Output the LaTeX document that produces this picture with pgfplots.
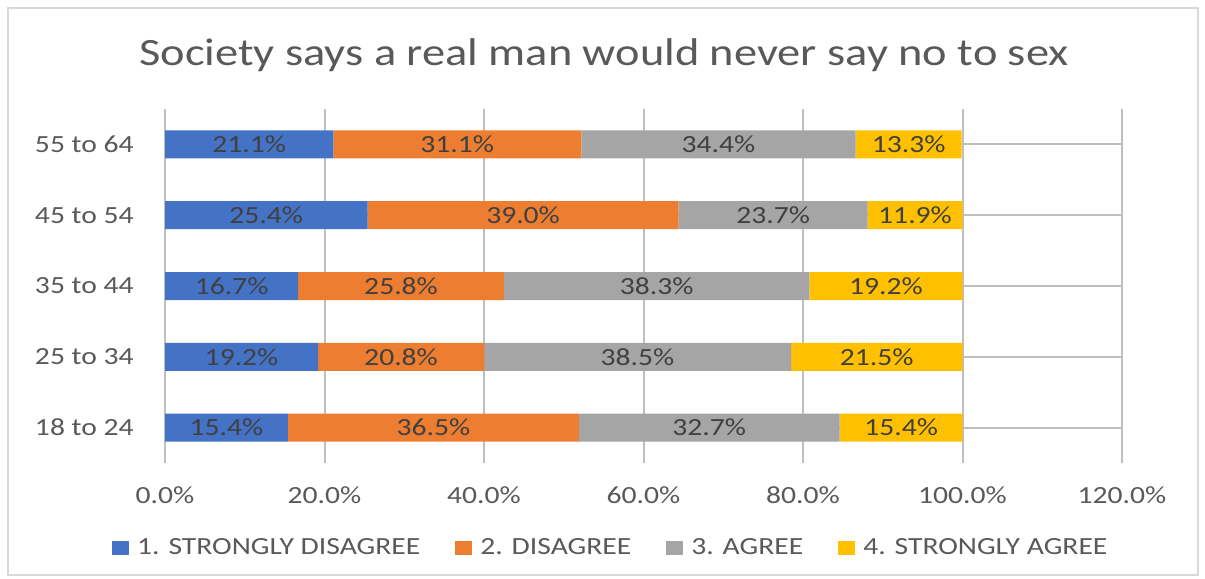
\documentclass[border=0pt]{standalone}
\usepackage{pgfplots}
\pgfplotsset{compat=1.18}
\usepackage{pgfplotstable}
\usepackage{fontspec}
\setmainfont{Carlito}[FakeStretch=1.2]
\definecolor{cBlue}{HTML}{4472C4}
\definecolor{cOrange}{HTML}{ED7D31}
\definecolor{cGray}{HTML}{A5A5A5}
\definecolor{cGold}{HTML}{FFC000}
\definecolor{txt}{HTML}{595959}
\definecolor{lbl}{HTML}{404040}
\definecolor{grid}{HTML}{D9D9D9}
\pgfplotstableread{
y sd d a sa
0 15.4 36.5 32.7 15.4
1 19.2 20.8 38.5 21.5
2 16.7 25.8 38.3 19.2
3 25.4 39.0 23.7 11.9
4 21.1 31.1 34.4 13.3
}\data
\begin{document}
\begin{tikzpicture}
\begin{scope}[x=0.75pt,y=-0.75pt]
\path[use as bounding box] (0,0) rectangle (1205,578);
\draw[grid, line width=1.5pt] (8,8) rectangle (1198,575);
\node[font=\fontsize{29}{33}\selectfont, text=txt] at (604,55) {Society says a real man would never say no to sex};
\end{scope}
\begin{axis}[
  at={(123.75pt,-347.25pt)}, anchor=south west,
  scale only axis, width=717.75pt, height=265.5pt,
  xbar stacked, bar width=21pt,
  xmin=0, xmax=120, ymin=-0.5, ymax=4.5,
  xtick={0,20,...,120},
  xticklabel={\pgfmathprintnumber[fixed,fixed zerofill,precision=1]{\tick}\%},
  /pgf/number format/assume math mode=true,
  ytick={0,1,2,3,4},
  yticklabels={18 to 24, 25 to 34, 35 to 44, 45 to 54, 55 to 64},
  xmajorgrids, grid style={grid, line width=1.5pt},
  axis line style={draw=none},
  major tick length=0pt,
  xticklabel style={font=\fontsize{18.5}{22}\selectfont, text=txt, yshift=-14pt},
  yticklabel style={font=\fontsize{18.5}{22}\selectfont, text=txt, xshift=-20pt},
  point meta=explicit,
  nodes near coords={\pgfmathprintnumber[fixed,fixed zerofill,precision=1]{\pgfplotspointmeta}\%},
  every node near coord/.append style={anchor=center, font=\fontsize{18.5}{22}\selectfont, text=lbl},
  legend columns=4,
  legend style={draw=none, fill=none, at={(0.466,-0.24)}, anchor=center,
    font=\fontsize{18.5}{22}\selectfont, text=txt,
    /tikz/every odd column/.append style={column sep=4pt},
    /tikz/every even column/.append style={column sep=24pt}},
  legend image code/.code={\fill[#1] (0pt,-5.25pt) rectangle (13pt,5.25pt);},
]
\addplot[fill=cBlue, draw=none] table[x=sd, y=y, meta=sd] {\data};
\addplot[fill=cOrange, draw=none] table[x=d, y=y, meta=d] {\data};
\addplot[fill=cGray, draw=none] table[x=a, y=y, meta=a] {\data};
\addplot[fill=cGold, draw=none] table[x=sa, y=y, meta=sa] {\data};
\legend{1. STRONGLY DISAGREE, 2. DISAGREE, 3. AGREE, 4. STRONGLY AGREE}
\end{axis}
\end{tikzpicture}
\end{document}
